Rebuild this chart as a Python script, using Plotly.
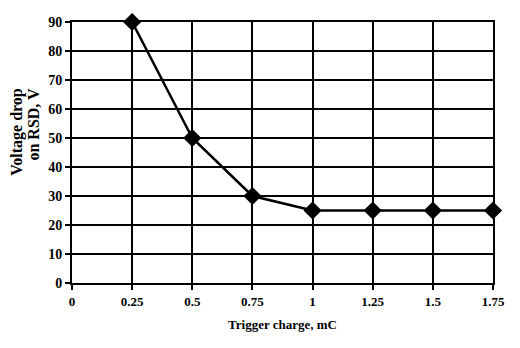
import plotly.graph_objects as go

charge = [0.25, 0.5, 0.75, 1, 1.25, 1.5, 1.75]
voltage = [90, 50, 30, 25, 25, 25, 25]
x_ticks = [0, 0.25, 0.5, 0.75, 1, 1.25, 1.5, 1.75]
x_tick_text = ["0", "0.25", "0.5", "0.75", "1", "1.25", "1.5", "1.75"]
y_ticks = [0, 10, 20, 30, 40, 50, 60, 70, 80, 90]
y_title_lines = ["Voltage drop", "on RSD, V"]

FONT = "Liberation Serif"

fig = go.Figure()
fig.add_trace(go.Scatter(
    x=charge, y=voltage, mode="lines+markers",
    line=dict(color="black", width=2.5),
    marker=dict(symbol="diamond", size=14, color="black"),
    cliponaxis=False, showlegend=False,
))

axis_common = dict(
    showgrid=True, gridcolor="black", gridwidth=2,
    showline=True, linecolor="black", linewidth=2, mirror=True,
    ticks="outside", ticklen=5, tickwidth=2, tickcolor="black",
    zeroline=False, ticklabeloverflow="allow",
)

fig.update_xaxes(range=[0, 1.75], tickvals=x_ticks, ticktext=x_tick_text,
                 tickfont=dict(family=FONT, size=13, color="black", weight="bold"),
                 title=dict(text="<b>Trigger charge, mC</b>", standoff=12,
                            font=dict(family=FONT, size=13, color="black")),
                 **axis_common)
fig.update_yaxes(range=[0, 90], tickvals=y_ticks,
                 tickfont=dict(family=FONT, size=14, color="black", weight="bold"),
                 **axis_common)

for xpos, line in zip([-0.1297, -0.0911], y_title_lines):
    fig.add_annotation(
        text=f"<b>{line}</b>", textangle=-90,
        xref="paper", yref="paper", x=xpos, y=0.757, xanchor="center", yanchor="top",
        showarrow=False, font=dict(family=FONT, size=16, color="black"),
    )

# the page body keeps an 8px margin; size the figure so it fits the window without scrolling
fig.update_layout(
    width=504, height=332,
    margin=dict(l=64, r=12, t=7, b=57),
    paper_bgcolor="white", plot_bgcolor="white",
    font=dict(family=FONT, color="black"),
)

fig.write_html("out.html")
